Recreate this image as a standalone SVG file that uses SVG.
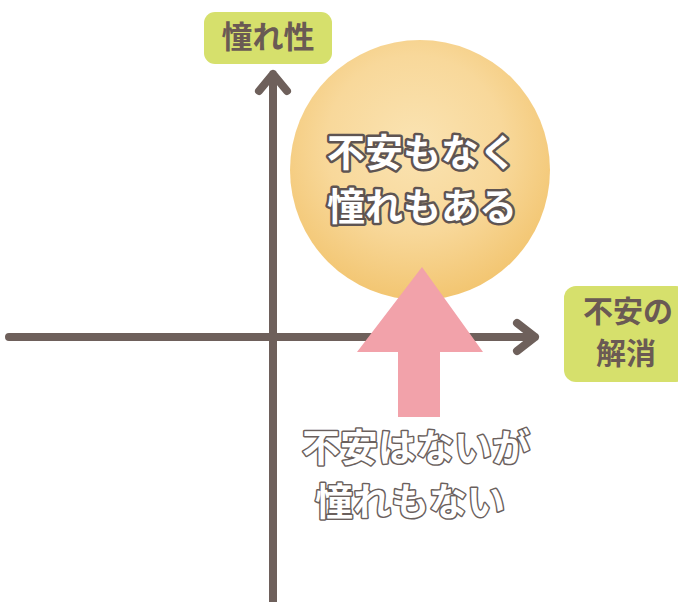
<svg xmlns="http://www.w3.org/2000/svg" width="678" height="602" viewBox="0 0 678 602">
<style>
.axis{stroke:#6e605b;stroke-width:8;fill:none;stroke-linecap:round;stroke-linejoin:round}
.lbl{fill:#d6e06c}
.lt{font-family:"Noto Sans CJK JP","Noto Sans",sans-serif;font-weight:700;fill:#6a5a54;text-anchor:middle}
.ot{font-family:"Noto Sans CJK JP","Noto Sans",sans-serif;font-weight:700;fill:#ffffff;stroke:#5e5452;stroke-width:5;paint-order:stroke;stroke-linejoin:round;text-anchor:middle}
.ot2{font-family:"Noto Sans CJK JP","Noto Sans",sans-serif;font-weight:700;fill:#ffffff;stroke:#6a605d;stroke-width:3;paint-order:stroke;stroke-linejoin:round;text-anchor:middle}
</style>
<defs>
<radialGradient id="g" cx="0.48" cy="0.4" r="0.62">
<stop offset="0" stop-color="#fae3b2"/>
<stop offset="0.55" stop-color="#f8d89a"/>
<stop offset="1" stop-color="#f2c46e"/>
</radialGradient>
</defs>
<rect width="678" height="602" fill="#ffffff"/>
<g id="circle">
<circle cx="420" cy="170" r="130" fill="url(#g)"/>
<text class="ot" x="422" y="166" font-size="38">不安もなく</text>
<text class="ot" x="422" y="220" font-size="38">憧れもある</text>
</g>
<g id="connectors">
<path class="axis" d="M9 337 H535 M517 323 L535 337 L517 351"/>
<path class="axis" d="M273 602 V74 M259 91 L273 74 L287 91"/>
</g>
<g id="pinkArrow">
<polygon points="422,267 483,352 440,352 440,417 398,417 398,352 357,352" fill="#f2a2aa"/>
</g>
<g id="yLabel">
<rect class="lbl" x="204" y="12" width="128" height="52" rx="11"/>
<text class="lt" x="268" y="48" font-size="31">憧れ性</text>
</g>
<g id="xLabel">
<rect class="lbl" x="564" y="286" width="124" height="96" rx="12"/>
<text class="lt" x="628" y="322" font-size="30">不安の</text>
<text class="lt" x="626" y="364" font-size="30">解消</text>
</g>
<g id="bottomText">
<text class="ot2" x="416" y="461" font-size="38">不安はないが</text>
<text class="ot2" x="410" y="515" font-size="38">憧れもない</text>
</g>
</svg>
